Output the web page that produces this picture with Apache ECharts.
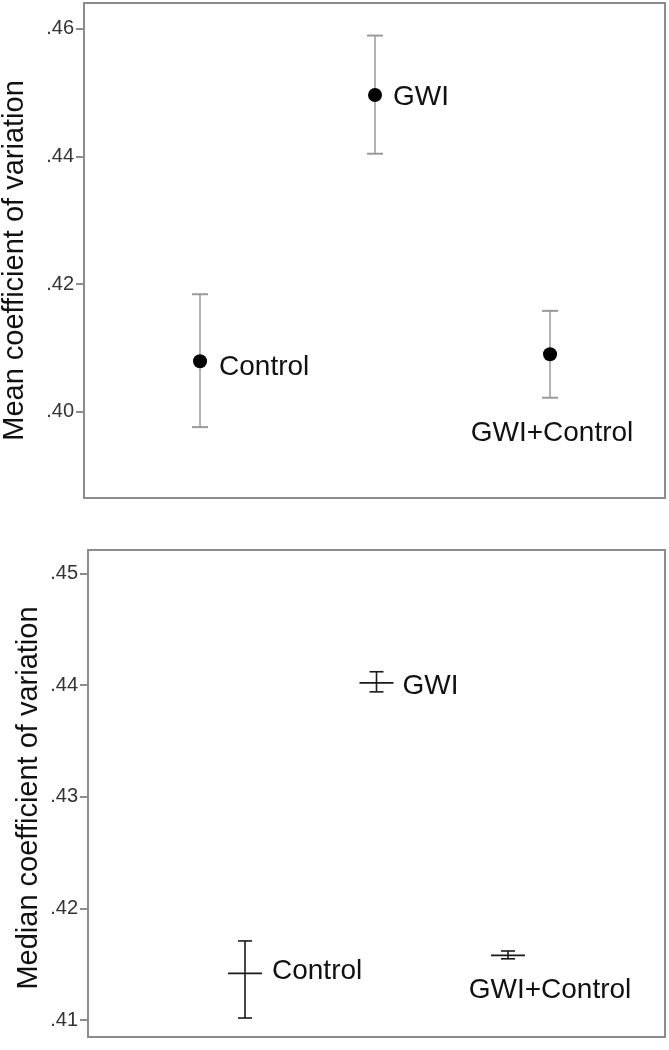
<!DOCTYPE html>
<html>
<head>
<meta charset="utf-8">
<script src="https://cdn.jsdelivr.net/npm/echarts@6/dist/echarts.min.js"></script>
<style>
html,body{margin:0;padding:0;background:#fff;}
#chart{width:669px;height:1050px;}
</style>
</head>
<body>
<div id="chart"></div>
<script>
// ---- data ----
var categories = ['Control', 'GWI', 'GWI+Control'];
var categoryPos = [1, 2, 3];
var meanValues = [0.4079, 0.4496, 0.4090];
var meanUpper  = [0.4184, 0.4589, 0.4158];
var meanLower  = [0.3976, 0.4404, 0.4022];
var medianValues = [0.4142, 0.4402, 0.4158];
var medianUpper  = [0.4171, 0.4412, 0.4162];
var medianLower  = [0.4102, 0.4394, 0.4155];
var topTicks = [0.40, 0.42, 0.44, 0.46];
var bottomTicks = [0.41, 0.42, 0.43, 0.44, 0.45];

// ---- styles (label placement) ----
var FONT = 'Liberation Sans, Arial, sans-serif';
var LABEL_SIZE = 28;
var TITLE_SIZE = 29;
var topLabelStyle = [
  {dx: 19, dy: 6, align: 'left', ref: 'mean'},
  {dx: 18, dy: 2, align: 'left', ref: 'mean'},
  {dx: 2, dy: 36, align: 'center', ref: 'lower'}
];
var bottomLabelStyle = [
  {dx: 27, dy: -2, align: 'left', ref: 'mean'},
  {dx: 26, dy: 3, align: 'left', ref: 'mean'},
  {dx: 42, dy: 35, align: 'center', ref: 'mean'}
];

function buildData(vals, hi, lo) {
  return categories.map(function (c, i) { return [categoryPos[i], vals[i], hi[i], lo[i]]; });
}

function makeRender(kind, labelStyle) {
  return function (params, api) {
    var i = params.dataIndex;
    var x = api.value(0);
    var pM = api.coord([x, api.value(1)]);
    var pH = api.coord([x, api.value(2)]);
    var pL = api.coord([x, api.value(3)]);
    var children = [];
    var barColor, lw, cap;
    if (kind === 'mean') { barColor = '#b3b3b3'; lw = 2; cap = 8; }
    else { barColor = '#1a1a1a'; lw = 1.6; cap = 7; }
    var capColor = kind === 'mean' ? '#9a9a9a' : '#1a1a1a';
    children.push({type: 'line', shape: {x1: pM[0], y1: pH[1], x2: pM[0], y2: pL[1]}, style: {stroke: barColor, lineWidth: lw}});
    children.push({type: 'line', shape: {x1: pM[0] - cap, y1: pH[1], x2: pM[0] + cap, y2: pH[1]}, style: {stroke: capColor, lineWidth: lw}});
    children.push({type: 'line', shape: {x1: pM[0] - cap, y1: pL[1], x2: pM[0] + cap, y2: pL[1]}, style: {stroke: capColor, lineWidth: lw}});
    if (kind === 'mean') {
      children.push({type: 'circle', shape: {cx: pM[0], cy: pM[1], r: 7}, style: {fill: '#000'}});
    } else {
      children.push({type: 'line', shape: {x1: pM[0] - 17, y1: pM[1], x2: pM[0] + 17, y2: pM[1]}, style: {stroke: '#1a1a1a', lineWidth: 1.8}});
    }
    var ls = labelStyle[i];
    var refY = ls.ref === 'lower' ? pL[1] : pM[1];
    children.push({type: 'text', x: pM[0] + ls.dx, y: refY + ls.dy,
      style: {text: categories[i], fill: '#111', font: LABEL_SIZE + 'px ' + FONT, textAlign: ls.align, textVerticalAlign: 'middle'}});
    return {type: 'group', children: children};
  };
}

function fmt(v) { return v.toFixed(2).replace(/^0/, ''); }

var frameColor = '#8c8c8c';
function yAxis(gridIndex, min, max, ticks, name, gap, shift) {
  return {
    type: 'value', gridIndex: gridIndex, min: min, max: max,
    name: name, nameLocation: 'middle', nameGap: gap, nameMoveOverlap: false,
    nameTextStyle: {fontFamily: FONT, fontSize: TITLE_SIZE, color: '#111', padding: [0, shift, 0, 0]},
    axisLine: {show: true, onZero: false, lineStyle: {color: frameColor, width: 2}},
    axisTick: {show: true, inside: false, length: 8, lineStyle: {color: frameColor, width: 2}, customValues: ticks},
    axisLabel: {show: true, margin: 10, fontFamily: FONT, fontSize: 20, color: '#333', customValues: ticks, formatter: fmt},
    splitLine: {show: false}
  };
}

var chart = echarts.init(document.getElementById('chart'));
chart.setOption({
  animation: false,
  backgroundColor: '#fff',
  grid: [
    {left: 84, right: 4, top: 3, bottom: 552, show: true, borderColor: frameColor, borderWidth: 2, containLabel: false, outerBoundsMode: 'none'},
    {left: 88, right: 4, top: 550, bottom: 13, show: true, borderColor: frameColor, borderWidth: 2, containLabel: false, outerBoundsMode: 'none'}
  ],
  xAxis: [
    {type: 'value', gridIndex: 0, min: 0.337, max: 3.657, show: false},
    {type: 'value', gridIndex: 1, min: -0.194, max: 4.194, show: false}
  ],
  yAxis: [
    yAxis(0, 0.3865, 0.464, topTicks, 'Mean coefficient of variation', 55, 20),
    yAxis(1, 0.4085, 0.4521, bottomTicks, 'Median coefficient of variation', 45, 9)
  ],
  series: [
    {type: 'custom', xAxisIndex: 0, yAxisIndex: 0, data: buildData(meanValues, meanUpper, meanLower), renderItem: makeRender('mean', topLabelStyle), clip: false},
    {type: 'custom', xAxisIndex: 1, yAxisIndex: 1, data: buildData(medianValues, medianUpper, medianLower), renderItem: makeRender('median', bottomLabelStyle), clip: false}
  ]
});
</script>
</body>
</html>
